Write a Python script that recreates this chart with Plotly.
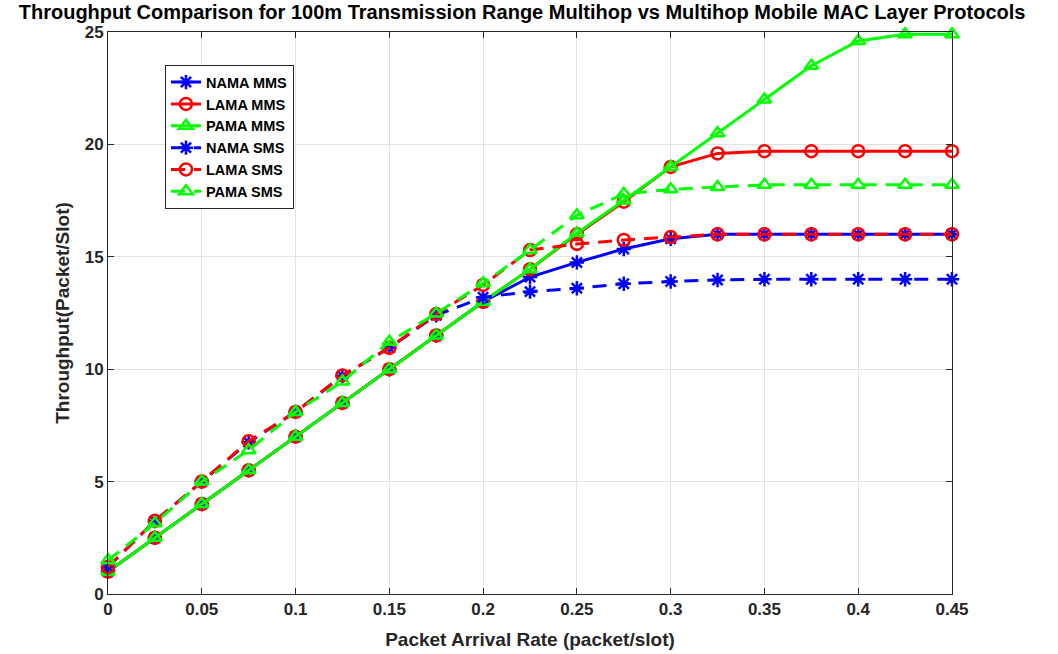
import plotly.graph_objects as go

x = [0, 0.025, 0.05, 0.075, 0.1, 0.125, 0.15, 0.175, 0.2, 0.225, 0.25, 0.275,
     0.3, 0.325, 0.35, 0.375, 0.4, 0.425, 0.45]

nama_mms = [1.0, 2.5, 4.0, 5.5, 7.0, 8.5, 10.0, 11.5, 13.0, 14.1, 14.75, 15.35,
            15.8, 16.0, 16.0, 16.0, 16.0, 16.0, 16.0]
lama_mms = [1.0, 2.5, 4.0, 5.5, 7.0, 8.5, 10.0, 11.5, 13.0, 14.45, 16.0, 17.45,
            19.0, 19.6, 19.7, 19.7, 19.7, 19.7, 19.7]
pama_mms = [1.0, 2.5, 4.0, 5.5, 7.0, 8.5, 10.0, 11.5, 13.0, 14.45, 16.05, 17.5,
            19.0, 20.5, 22.0, 23.5, 24.6, 24.9, 24.9]
nama_sms = [1.2, 3.25, 5.0, 6.75, 8.1, 9.7, 10.95, 12.4, 13.2, 13.45, 13.6, 13.8,
            13.9, 13.97, 14.0, 14.0, 14.0, 14.0, 14.0]
lama_sms = [1.2, 3.25, 5.0, 6.8, 8.1, 9.72, 10.95, 12.45, 13.75, 15.3, 15.57, 15.75,
            15.88, 16.0, 16.0, 16.0, 16.0, 16.0, 16.0]
pama_sms = [1.5, 3.15, 5.0, 6.4, 8.1, 9.45, 11.22, 12.48, 13.82, 15.3, 16.85, 17.8,
            18.0, 18.1, 18.2, 18.2, 18.2, 18.2, 18.2]

x_ticks = [0, 0.05, 0.1, 0.15, 0.2, 0.25, 0.3, 0.35, 0.4, 0.45]
x_tick_labels = ["0", "0.05", "0.1", "0.15", "0.2", "0.25", "0.3", "0.35", "0.4", "0.45"]
y_ticks = [0, 5, 10, 15, 20, 25]

series = [
    ("NAMA MMS", nama_mms, "#0000FF", "solid", "asterisk-open"),
    ("LAMA MMS", lama_mms, "#FF0000", "solid", "circle-open"),
    ("PAMA MMS", pama_mms, "#00FF00", "solid", "triangle-up-open"),
    ("NAMA SMS", nama_sms, "#0000FF", "dash", "asterisk-open"),
    ("LAMA SMS", lama_sms, "#FF0000", "dash", "circle-open"),
    ("PAMA SMS", pama_sms, "#00FF00", "dash", "triangle-up-open"),
]

FONT = "Arial, Liberation Sans, sans-serif"

fig = go.Figure()
for name, y, color, dash, sym in series:
    fig.add_trace(go.Scatter(
        x=x, y=y, name=name, mode="lines+markers",
        line=dict(color=color, width=3, dash="solid" if dash == "solid" else "14px,9px"),
        marker=dict(symbol=sym, size=12, color=color, line=dict(width=2.5, color=color)),
        cliponaxis=False,
    ))

axis_common = dict(
    showgrid=True, gridcolor="#E3E3E3", gridwidth=1,
    showline=True, linecolor="#262626", linewidth=1, mirror="ticks",
    ticks="inside", ticklen=6, tickcolor="#262626",
    tickfont=dict(family=FONT, size=17, color="#262626", weight="bold"),
    zeroline=False, automargin=False,
)

fig.update_layout(
    width=1058, height=654,
    margin=dict(l=108, r=106, t=32, b=60),
    paper_bgcolor="white", plot_bgcolor="white",
    title=dict(
        text="<b>Throughput Comparison for 100m Transmission Range Multihop vs Multihop Mobile MAC Layer Protocols</b>",
        xref="container", x=0.4935, xanchor="center",
        yref="container", y=1 - 12 / 654, yanchor="middle",
        font=dict(family=FONT, size=20, color="black"),
    ),
    xaxis=dict(
        range=[0, 0.45], tickvals=x_ticks, ticktext=x_tick_labels,
        title=dict(text="Packet Arrival Rate (packet/slot)",
                   font=dict(family=FONT, size=19, color="#262626", weight="bold"),
                   standoff=14),
        **axis_common,
    ),
    yaxis=dict(
        range=[0, 25], tickvals=y_ticks,
        title=dict(text="Throughput(Packet/Slot)",
                   font=dict(family=FONT, size=19, color="#262626", weight="bold"),
                   standoff=10),
        **axis_common,
    ),
    legend=dict(
        x=0.0675, y=0.941, xanchor="left", yanchor="top",
        bgcolor="white", bordercolor="#262626", borderwidth=1,
        font=dict(family=FONT, size=14.5, color="black", weight="bold"),
        tracegroupgap=0,
    ),
)

fig.write_html(
    "out.html",
    config={"displayModeBar": False},
    post_script="document.body.style.margin='0';document.body.style.overflow='hidden';",
)
